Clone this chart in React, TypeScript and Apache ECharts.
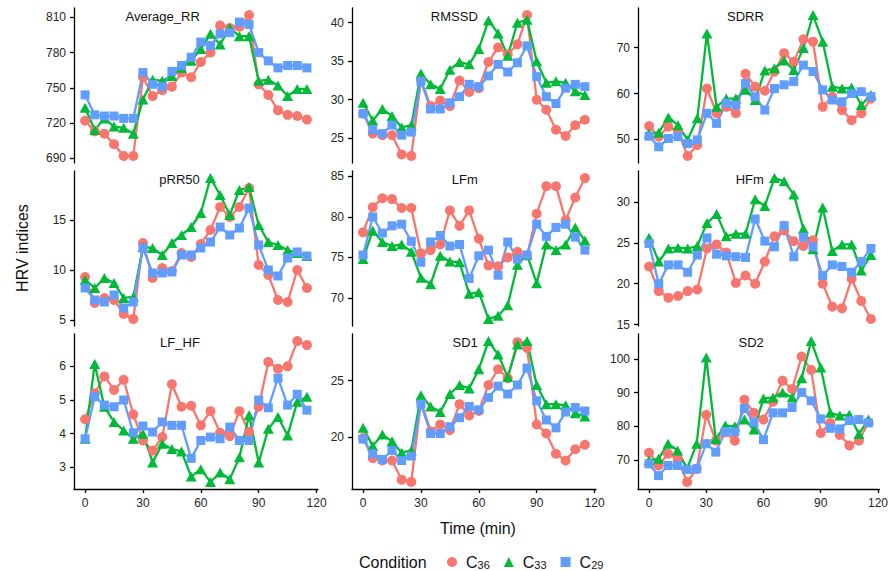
import React, { useEffect, useRef } from 'react';
import * as echarts from 'echarts';

const TIME = [0, 5, 10, 15, 20, 25, 30, 35, 40, 45, 50, 55, 60, 65, 70, 75, 80, 85, 90, 95, 100, 105, 110, 115];
const X_TICKS = [0, 30, 60, 90, 120];
const CONDITIONS = ['C36', 'C33', 'C29'];
const COLORS = ['#F8766D', '#00BA38', '#619CFF'];
const SYMBOLS = ['circle', 'triangle', 'rect'];

const AVG_RR_C36 = [722, 713, 711, 702, 692, 692, 759, 743, 748, 751, 763, 759, 772, 780, 803, 801, 802, 812, 753, 744, 731, 727, 726, 723];
const AVG_RR_C33 = [733, 714, 724, 717, 716, 711, 740, 757, 756, 760, 767, 773, 783, 796, 787, 801, 794, 794, 756, 757, 752, 743, 749, 749];
const AVG_RR_C29 = [744, 727, 726, 726, 724, 724, 763, 753, 751, 764, 769, 776, 789, 786, 796, 797, 806, 804, 780, 773, 767, 769, 769, 767];
const AVG_RR_TICKS = [690, 720, 750, 780, 810];

const RMSSD_C36 = [28.2, 25.6, 25.4, 25.4, 22.9, 22.7, 32.6, 29.2, 29.9, 29.2, 32.5, 31.0, 31.5, 34.9, 36.8, 35.9, 37.2, 41.0, 30.0, 28.7, 26.1, 25.3, 26.7, 27.4];
const RMSSD_C33 = [29.6, 27.3, 28.8, 27.9, 26.4, 26.7, 33.4, 32.0, 31.4, 33.9, 34.9, 34.6, 36.6, 40.3, 38.6, 35.7, 40.0, 40.4, 35.0, 32.2, 32.4, 32.2, 31.1, 30.6];
const RMSSD_C29 = [28.2, 26.1, 25.6, 26.7, 25.4, 25.8, 32.4, 28.8, 28.8, 29.6, 30.4, 32.0, 31.7, 33.1, 34.6, 33.6, 34.8, 37.0, 33.0, 30.4, 29.5, 31.5, 32.0, 31.7];
const RMSSD_TICKS = [25, 30, 35, 40];

const SDRR_C36 = [52.9, 50.6, 52.8, 51.7, 46.4, 48.8, 61.1, 55.7, 57.1, 55.7, 64.3, 61.5, 60.6, 64.8, 68.8, 66.9, 71.8, 71.3, 57.1, 59.3, 56.4, 54.2, 55.7, 58.9];
const SDRR_C33 = [51.3, 51.5, 54.8, 53.1, 49.9, 54.6, 73.1, 57.1, 58.9, 58.9, 60.8, 58.6, 65.0, 65.5, 67.2, 65.1, 69.9, 77.1, 71.3, 61.5, 61.1, 61.3, 57.5, 59.7];
const SDRR_C29 = [50.7, 48.4, 50.2, 50.6, 49.1, 49.9, 55.7, 53.5, 57.9, 57.5, 62.2, 59.3, 56.4, 61.1, 61.9, 62.6, 66.2, 64.8, 60.8, 58.6, 58.2, 60.0, 60.4, 59.3];
const SDRR_TICKS = [50, 60, 70];

const PRR50_C36 = [9.3, 6.7, 7.2, 7.0, 5.6, 5.1, 12.7, 9.2, 10.2, 9.9, 11.7, 11.3, 12.6, 14.0, 16.3, 15.3, 16.3, 18.2, 10.5, 9.5, 7.0, 6.8, 10.0, 8.2];
const PRR50_C33 = [9.0, 8.2, 9.2, 8.7, 7.2, 7.3, 12.3, 12.2, 11.5, 12.7, 13.5, 14.3, 15.7, 19.2, 17.5, 15.5, 18.0, 18.3, 14.5, 12.8, 12.5, 12.0, 11.7, 11.4];
const PRR50_C29 = [8.2, 7.0, 6.8, 7.5, 6.2, 6.8, 12.2, 9.7, 9.7, 9.8, 11.5, 11.5, 12.2, 12.8, 14.3, 13.5, 14.2, 16.2, 12.5, 10.0, 9.4, 11.2, 11.8, 11.4];
const PRR50_TICKS = [5, 10, 15];

const LFM_C36 = [78.1, 81.2, 82.3, 82.2, 81.1, 81.1, 75.5, 75.9, 76.6, 80.8, 78.9, 80.8, 77.3, 74.0, 73.9, 75.0, 75.7, 75.2, 80.4, 83.8, 83.8, 79.6, 82.4, 84.8];
const LFM_C33 = [74.8, 78.3, 76.9, 76.4, 76.6, 75.7, 72.5, 71.7, 75.2, 74.5, 74.4, 70.5, 70.7, 67.4, 67.8, 69.1, 74.1, 75.3, 71.8, 76.6, 75.9, 76.6, 78.7, 77.1];
const LFM_C29 = [75.3, 80.0, 78.0, 78.9, 79.1, 77.0, 74.4, 76.9, 77.7, 76.4, 76.6, 72.4, 75.2, 75.9, 72.8, 76.9, 74.8, 75.3, 79.1, 77.6, 78.7, 79.1, 77.5, 75.9];
const LFM_TICKS = [70, 75, 80, 85];

const HFM_C36 = [22.1, 19.1, 18.3, 18.5, 19.1, 19.3, 24.3, 24.8, 23.8, 20.1, 21.0, 20.0, 22.7, 25.8, 26.5, 25.2, 24.6, 25.3, 20.0, 17.2, 17.0, 20.6, 17.9, 15.7];
const HFM_C33 = [25.6, 22.7, 24.3, 24.4, 24.3, 24.6, 27.4, 28.5, 25.8, 26.1, 26.1, 30.3, 29.5, 32.9, 32.5, 30.9, 26.7, 24.2, 29.3, 24.0, 24.8, 24.8, 21.6, 23.5];
const HFM_C29 = [24.9, 20.0, 22.3, 22.3, 21.4, 23.5, 25.6, 23.6, 23.4, 23.3, 23.2, 27.9, 25.2, 24.5, 27.1, 23.3, 25.7, 24.5, 21.0, 22.3, 22.1, 21.4, 22.7, 24.3];
const HFM_TICKS = [15, 20, 25, 30];

const LF_HF_C36 = [4.43, 5.2, 5.7, 5.3, 5.6, 4.57, 3.8, 3.5, 3.9, 5.47, 4.8, 4.83, 4.25, 4.67, 4.03, 3.93, 4.67, 4.05, 4.8, 6.13, 5.93, 6.0, 6.75, 6.63];
const LF_HF_C33 = [3.85, 6.07, 4.8, 4.35, 4.1, 3.85, 4.0, 3.15, 3.7, 3.55, 3.47, 2.73, 2.95, 2.57, 2.85, 2.65, 3.3, 4.55, 3.15, 4.15, 4.5, 3.95, 4.95, 5.1];
const LF_HF_C29 = [3.85, 5.1, 4.85, 4.8, 5.0, 4.03, 4.23, 4.05, 4.35, 4.25, 4.25, 3.27, 3.8, 3.9, 3.85, 4.2, 3.8, 3.8, 5.0, 4.77, 5.65, 4.85, 5.17, 4.7];
const LF_HF_TICKS = [3, 4, 5, 6];

const SD1_C36 = [19.9, 18.1, 17.9, 17.9, 16.2, 16.0, 23.2, 20.5, 21.1, 20.6, 22.9, 21.9, 22.3, 24.6, 26.0, 25.2, 28.4, 27.9, 21.1, 20.3, 18.5, 17.9, 18.9, 19.3];
const SD1_C33 = [20.8, 19.2, 20.2, 19.6, 18.6, 18.8, 23.7, 22.7, 22.2, 23.8, 24.6, 24.3, 26.0, 28.5, 27.3, 25.3, 28.2, 28.5, 24.6, 22.9, 22.9, 22.8, 22.1, 21.8];
const SD1_C29 = [19.8, 18.5, 18.0, 18.8, 17.9, 18.3, 22.9, 20.3, 20.3, 20.9, 21.7, 22.7, 22.4, 23.5, 24.5, 23.8, 24.6, 26.1, 23.2, 21.5, 20.8, 22.2, 22.6, 22.3];
const SD1_TICKS = [20, 25];

const SD2_C36 = [72.1, 68.3, 71.8, 70.3, 63.4, 67.3, 83.4, 75.7, 78.2, 75.7, 87.9, 84.0, 82.0, 87.3, 93.6, 91.1, 100.8, 96.8, 78.0, 81.0, 77.4, 74.3, 75.7, 81.2];
const SD2_C33 = [69.8, 70.3, 74.8, 72.8, 67.3, 74.8, 100.5, 76.2, 80.2, 80.0, 82.0, 79.0, 88.3, 88.6, 90.1, 88.6, 94.3, 105.4, 97.5, 84.0, 83.2, 83.4, 77.7, 82.0];
const SD2_C29 = [68.8, 65.3, 68.3, 68.3, 67.1, 67.3, 74.8, 72.3, 78.4, 78.4, 85.3, 81.2, 76.0, 84.0, 84.0, 85.6, 90.1, 87.6, 82.2, 79.4, 79.2, 81.7, 82.0, 81.0];
const SD2_TICKS = [70, 80, 90, 100];

const PANELS = [
  { name: 'Average_RR', values: [AVG_RR_C36, AVG_RR_C33, AVG_RR_C29], ticks: AVG_RR_TICKS },
  { name: 'RMSSD', values: [RMSSD_C36, RMSSD_C33, RMSSD_C29], ticks: RMSSD_TICKS },
  { name: 'SDRR', values: [SDRR_C36, SDRR_C33, SDRR_C29], ticks: SDRR_TICKS },
  { name: 'pRR50', values: [PRR50_C36, PRR50_C33, PRR50_C29], ticks: PRR50_TICKS },
  { name: 'LFm', values: [LFM_C36, LFM_C33, LFM_C29], ticks: LFM_TICKS },
  { name: 'HFm', values: [HFM_C36, HFM_C33, HFM_C29], ticks: HFM_TICKS },
  { name: 'LF_HF', values: [LF_HF_C36, LF_HF_C33, LF_HF_C29], ticks: LF_HF_TICKS },
  { name: 'SD1', values: [SD1_C36, SD1_C33, SD1_C29], ticks: SD1_TICKS },
  { name: 'SD2', values: [SD2_C36, SD2_C33, SD2_C29], ticks: SD2_TICKS },
];

const FONT = '"Liberation Sans", Arial, Helvetica, sans-serif';
const COL_LEFT = [74, 352, 638];
const ROW_TOP = [8, 171, 334];
const PW = 244;
const PH = 155;
const X_MIN = -5.75;
const X_MAX = 120.75;
const SYMBOL_SIZES: any[] = [10, [11, 10], 9];

function textEl(text: string, x: number, y: number, size: number, align: string, rotation = 0) {
  return {
    type: 'text',
    x,
    y,
    rotation,
    silent: true,
    style: { text, fill: '#111', font: `${size}px ${FONT}`, align, verticalAlign: 'middle' },
  };
}

function buildOption() {
  const grid: any[] = [];
  const xAxis: any[] = [];
  const yAxis: any[] = [];
  const series: any[] = [];
  const graphic: any[] = [];
  const axisLineStyle = { color: '#000', width: 1.3 };
  const labelStyle = { color: '#262626', fontSize: 12, fontFamily: FONT };

  PANELS.forEach((p, k) => {
    const row = Math.floor(k / 3);
    const col = k % 3;
    const left = COL_LEFT[col];
    const top = ROW_TOP[row];
    grid.push({ left, top, width: PW, height: PH });
    const all = ([] as number[]).concat(...p.values);
    const mn = Math.min(...all);
    const mx = Math.max(...all);
    const pad = (mx - mn) * 0.05;
    xAxis.push({
      gridIndex: k,
      type: 'value',
      min: X_MIN,
      max: X_MAX,
      show: row === 2,
      axisLine: { show: true, onZero: false, lineStyle: axisLineStyle },
      axisTick: { show: true, customValues: X_TICKS, length: 4, lineStyle: axisLineStyle },
      axisLabel: { show: true, customValues: X_TICKS, margin: 8, ...labelStyle },
      splitLine: { show: false },
    });
    yAxis.push({
      gridIndex: k,
      type: 'value',
      min: mn - pad,
      max: mx + pad,
      axisLine: { show: true, onZero: false, lineStyle: axisLineStyle },
      axisTick: { show: true, customValues: p.ticks, length: 4, lineStyle: axisLineStyle },
      axisLabel: { show: true, customValues: p.ticks, margin: 8, ...labelStyle },
      splitLine: { show: false },
    });
    p.values.forEach((vals, j) => {
      const data = TIME.map((t, i) => [t, vals[i]]);
      series.push({
        type: 'line',
        name: CONDITIONS[j],
        xAxisIndex: k,
        yAxisIndex: k,
        data,
        symbol: 'none',
        lineStyle: { color: COLORS[j], width: 2.3 },
        itemStyle: { color: COLORS[j] },
        z: 2,
        silent: true,
      });
    });
    p.values.forEach((vals, j) => {
      const data = TIME.map((t, i) => [t, vals[i]]);
      series.push({
        type: 'scatter',
        name: CONDITIONS[j],
        xAxisIndex: k,
        yAxisIndex: k,
        data,
        symbol: SYMBOLS[j],
        symbolSize: SYMBOL_SIZES[j],
        itemStyle: { color: COLORS[j], opacity: 1 },
        z: 3,
        silent: true,
      });
    });
    const titleX = left + ((60 - X_MIN) / (X_MAX - X_MIN)) * PW - 1;
    graphic.push(textEl(p.name, titleX, top + 8, 13, 'right'));
  });

  graphic.push(textEl('HRV indices', 22, 248, 16, 'center', Math.PI / 2));
  graphic.push(textEl('Time (min)', 478, 528, 16, 'center'));
  graphic.push(textEl('Condition', 359, 562, 16, 'left'));

  return {
    animation: false,
    backgroundColor: '#fff',
    textStyle: { fontFamily: FONT },
    grid,
    xAxis,
    yAxis,
    series,
    graphic,
    legend: {
      data: CONDITIONS.map((c, j) => ({ name: c, icon: SYMBOLS[j], itemStyle: { color: COLORS[j] } })),
      left: 442,
      top: 549,
      orient: 'horizontal',
      itemWidth: 10,
      itemHeight: 10,
      itemGap: 14,
      selectedMode: false,
      formatter: (name: string) => `{b|C}{s|${name.slice(1)}}`,
      textStyle: {
        rich: {
          b: { fontSize: 16, fontFamily: FONT, color: '#111', padding: [0, 0, 0, 4] },
          s: { fontSize: 11, fontFamily: FONT, color: '#111', verticalAlign: 'bottom' },
        },
      },
    },
  };
}

export default function App() {
  const ref = useRef<HTMLDivElement>(null);
  useEffect(() => {
    if (!ref.current) return;
    const chart = echarts.init(ref.current, null, { renderer: 'svg' });
    chart.setOption(buildOption() as any);
    return () => chart.dispose();
  }, []);
  return <div ref={ref} style={{ position: 'fixed', left: 0, top: 0, width: 891, height: 571 }} />;
}
